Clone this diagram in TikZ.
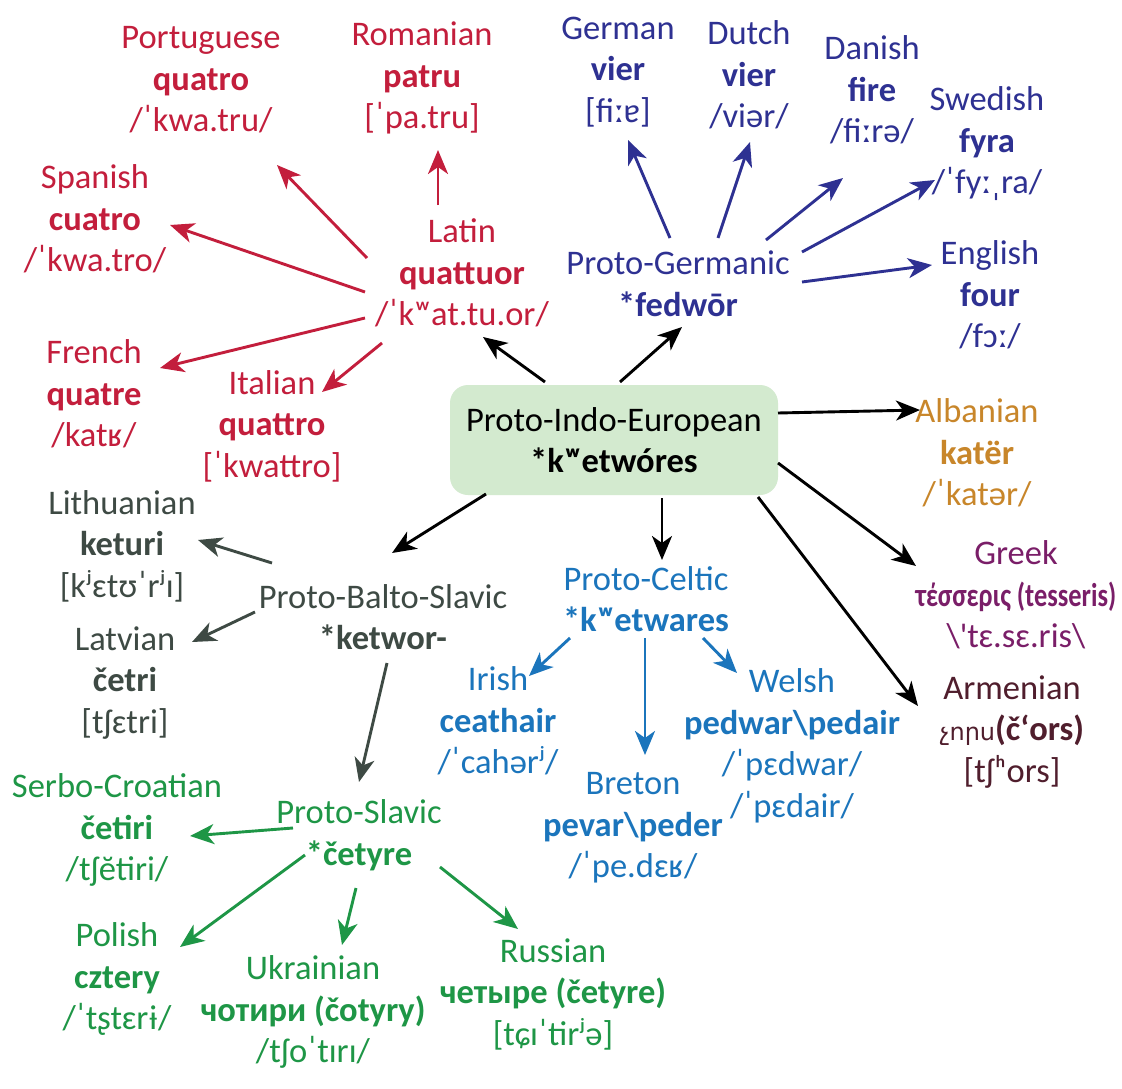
\documentclass[tikz,border=0pt]{standalone}
\usepackage{fontspec}
\usepackage{graphicx}
\setmainfont{Carlito}
\newfontfamily\armfont{DejaVu Sans}
\usetikzlibrary{arrows.meta,calc}
\definecolor{romc}{RGB}{195,30,60}
\definecolor{gerc}{RGB}{46,49,146}
\definecolor{celc}{RGB}{27,117,188}
\definecolor{slac}{RGB}{30,150,70}
\definecolor{balc}{RGB}{62,74,68}
\definecolor{albc}{RGB}{200,134,42}
\definecolor{grec}{RGB}{122,30,104}
\definecolor{armc}{RGB}{80,30,45}
\definecolor{piefill}{RGB}{211,234,207}
\tikzset{
  lang/.style={align=center, inner sep=0pt, font=\fontsize{34.5}{41.5}\selectfont},
  arr/.style={line width=2.9pt, -{Stealth[length=24pt,width=20pt,inset=7pt]}},
}
\begin{document}
\begin{tikzpicture}[x=1pt,y=-1pt]
\useasboundingbox[fill=white] (0,0) rectangle (1122,1089);
% PIE
\node[lang, fill=piefill, rounded corners=18pt, minimum width=328pt, minimum height=110pt] (pie) at (614,440) {Proto-Indo-European\\\textbf{*kʷetwóres}};
% Romance
\node[lang,text=romc] (lat) at (462,273) {Latin\\\textbf{quattuor}\\/ˈkʷat.tu.or/};
\node[lang,text=romc] (por) at (201,80) {Portuguese\\\textbf{quatro}\\/ˈkwa.tru/};
\node[lang,text=romc] (rom) at (422,78) {Romanian\\\textbf{patru}\\{[}ˈpa.tru{]}};
\node[lang,text=romc] (spa) at (95,219) {Spanish\\\textbf{cuatro}\\/ˈkwa.tro/};
\node[lang,text=romc] (fre) at (94,394) {French\\\textbf{quatre}\\/katʁ/};
\node[lang,text=romc] (ita) at (272,426) {Italian\\\textbf{quattro}\\{[}ˈkwattro{]}};
% Germanic
\node[lang,text=gerc] (pg) at (678,284) {Proto-Germanic\\\textbf{*fedwōr}};
\node[lang,text=gerc] (ger) at (618,72) {German\\\textbf{vier}\\{[}fiːɐ{]}};
\node[lang,text=gerc] (dut) at (749,75) {Dutch\\\textbf{vier}\\/viər/};
\node[lang,text=gerc] (dan) at (872,90) {Danish\\\textbf{fire}\\/fiːrə/};
\node[lang,text=gerc] (swe) at (987,144) {Swedish\\\textbf{fyra}\\/ˈfyːˌra/};
\node[lang,text=gerc] (eng) at (990,295) {English\\\textbf{four}\\/fɔː/};
% Albanian, Greek, Armenian
\node[lang,text=albc] (alb) at (977,453) {Albanian\\\textbf{katër}\\/ˈkatər/};
\node[lang,text=grec] (gre) at (1016,595) {Greek\\\scalebox{0.8}[1]{\fontsize{33}{41.5}\selectfont\textbf{τέσσερις (tesseris)}}\\\textbackslash\textquotesingle tɛ.sɛ.ris\textbackslash};
\node[lang,text=armc] (arm) at (1012,732) {Armenian\\{\armfont\fontsize{24}{41.5}\selectfont չորս}\textbf{(čʻors)}\\{[}tʃʰors{]}};
% Balto-Slavic
\node[lang,text=balc] (pbs) at (383,617) {Proto-Balto-Slavic\\\textbf{*ketwor-}};
\node[lang,text=balc] (lit) at (122,546) {Lithuanian\\\textbf{keturi}\\{[}kʲɛtʊˈrʲɪ{]}};
\node[lang,text=balc] (lav) at (125,683) {Latvian\\\textbf{četri}\\{[}tʃɛtri{]}};
% Celtic
\node[lang,text=celc] (pc) at (646,599) {Proto-Celtic\\\textbf{*kʷetwares}};
\node[lang,text=celc] (iri) at (498,721) {Irish\\\textbf{ceathair}\\/ˈcahərʲ/};
\node[lang,text=celc] (bre) at (633,828) {Breton\\\textbf{pevar\textbackslash peder}\\/ˈpe.dɛʁ/};
\node[lang,text=celc] (wel) at (792,746) {Welsh\\\textbf{pedwar\textbackslash pedair}\\/ˈpɛdwar/\\/ˈpɛdair/};
% Slavic
\node[lang,text=slac] (ps) at (359,835) {Proto-Slavic\\\textbf{*četyre}};
\node[lang,text=slac] (src) at (117,830) {Serbo-Croatian\\\textbf{četiri}\\/tʃĕtiri/};
\node[lang,text=slac] (pol) at (117,979) {Polish\\\textbf{cztery}\\/ˈtʂtɛrɨ/};
\node[lang,text=slac] (ukr) at (313,1012) {Ukrainian\\\textbf{чотири (čotyry)}\\/tʃoˈtɪrɪ/};
\node[lang,text=slac] (rus) at (553,994) {Russian\\\textbf{четыре (četyre)}\\{[}tɕɪˈtɨrʲə{]}};
% Arrows from PIE
\draw[arr,black] ($(pie)+(-69,-58)$) -- ($(lat)+(21,64)$);
\draw[arr,black] ($(pie)+(6,-58)$) -- ($(pg)+(4,43)$);
\draw[arr,black] ($(pie)+(164,-27)$) -- ($(alb)+(-57,-43)$);
\draw[arr,black] ($(pie)+(164,23)$) -- ($(gre)+(-100,-29)$);
\draw[arr,black] ($(pie)+(144,57)$) -- ($(arm)+(-94,-26)$);
\draw[arr,black] ($(pie)+(48,58)$) -- ($(pc)+(16,-39)$);
\draw[arr,black] ($(pie)+(-128,54)$) -- ($(pbs)+(9,-64)$);
% Romance arrows
\draw[arr,romc] ($(lat)+(-95,-15)$) -- ($(por)+(76,85)$);
\draw[arr,romc] ($(lat)+(-24,-68)$) -- ($(rom)+(16,72)$);
\draw[arr,romc] ($(lat)+(-97,19)$) -- ($(spa)+(75,6)$);
\draw[arr,romc] ($(lat)+(-97,45)$) -- ($(fre)+(66,-26)$);
\draw[arr,romc] ($(lat)+(-80,70)$) -- ($(ita)+(50,-34)$);
% Germanic arrows
\draw[arr,gerc] ($(pg)+(-8,-46)$) -- ($(ger)+(10,68)$);
\draw[arr,gerc] ($(pg)+(40,-46)$) -- ($(dut)+(1,67)$);
\draw[arr,gerc] ($(pg)+(88,-44)$) -- ($(dan)+(-29,88)$);
\draw[arr,gerc] ($(pg)+(124,-32)$) -- ($(swe)+(-52,36)$);
\draw[arr,gerc] ($(pg)+(124,-2)$) -- ($(eng)+(-58,-30)$);
% Balto-Slavic arrows
\draw[arr,balc] ($(pbs)+(-111,-54)$) -- ($(lit)+(76,-6)$);
\draw[arr,balc] ($(pbs)+(-128,-5)$) -- ($(lav)+(67,-41)$);
\draw[arr,balc] ($(pbs)+(4,46)$) -- ($(ps)+(0,-53)$);
% Celtic arrows
\draw[arr,celc] ($(pc)+(-76,39)$) -- ($(iri)+(31,-45)$);
\draw[arr,celc] ($(pc)+(-1,39)$) -- ($(bre)+(12,-73)$);
\draw[arr,celc] ($(pc)+(57,39)$) -- ($(wel)+(-55,-73)$);
% Slavic arrows
\draw[arr,slac] ($(ps)+(-66,-7)$) -- ($(src)+(73,6)$);
\draw[arr,slac] ($(ps)+(-54,20)$) -- ($(pol)+(63,-32)$);
\draw[arr,slac] ($(ps)+(-3,53)$) -- ($(ukr)+(29,-67)$);
\draw[arr,slac] ($(ps)+(81,32)$) -- ($(rus)+(-35,-65)$);
\end{tikzpicture}
\end{document}
